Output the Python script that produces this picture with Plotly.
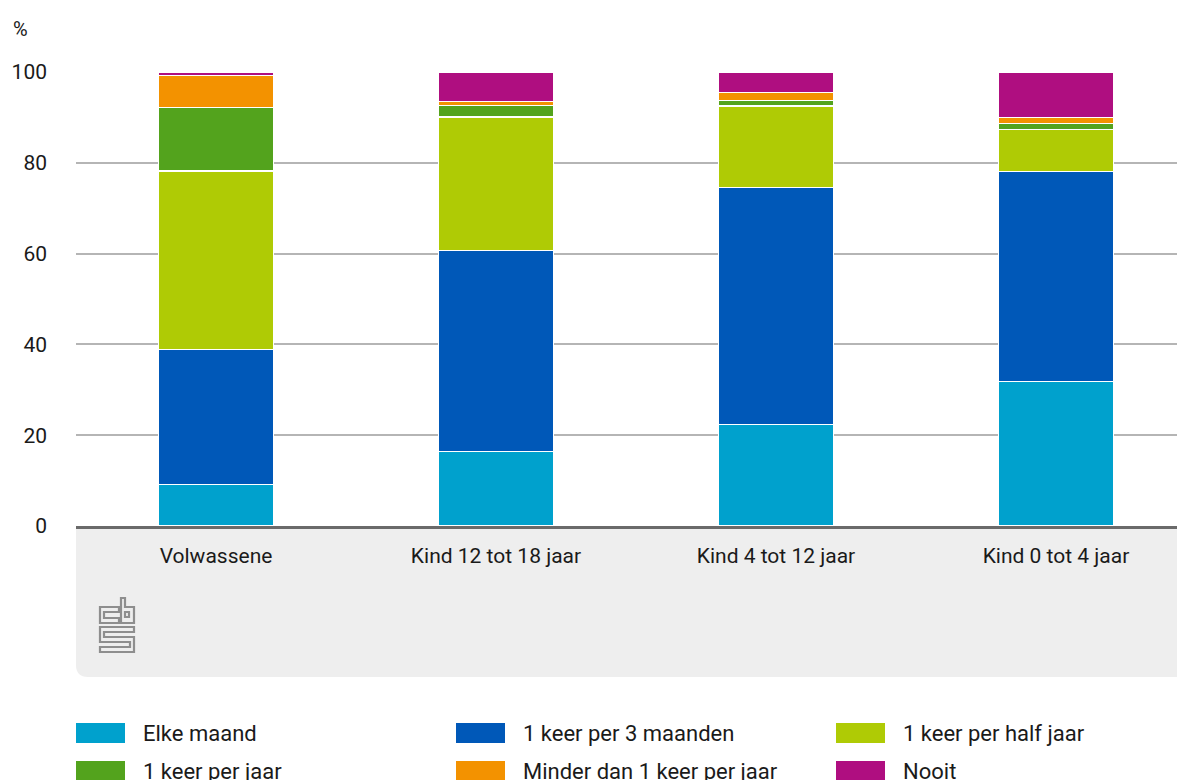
import plotly.graph_objects as go

# ---------------- data ----------------
categories = ["Volwassene", "Kind 12 tot 18 jaar", "Kind 4 tot 12 jaar", "Kind 0 tot 4 jaar"]
series_names = ["Elke maand", "1 keer per 3 maanden", "1 keer per half jaar",
                "1 keer per jaar", "Minder dan 1 keer per jaar", "Nooit"]
elke_maand = [9.1, 16.4, 22.4, 31.8]
keer_per_3_maanden = [29.8, 44.2, 52.2, 46.3]
keer_per_half_jaar = [39.3, 29.5, 17.9, 9.3]
keer_per_jaar = [13.9, 2.5, 1.2, 1.3]
minder_dan_1_keer = [7.1, 0.9, 1.8, 1.3]
nooit = [0.8, 6.5, 4.5, 10.0]
series_values = [elke_maand, keer_per_3_maanden, keer_per_half_jaar,
                 keer_per_jaar, minder_dan_1_keer, nooit]
colors = ["#00A1CD", "#0058B8", "#AFCB05", "#53A31D", "#F39200", "#AF0E80"]
y_ticks = [0, 20, 40, 60, 80, 100]
y_unit = "%"

# ---------------- layout constants ----------------
OFF = 8  # page body margin
W, H = 1185 - OFF, 780 - OFF
L, R, T = 76 - OFF, 0, 72 - OFF
B = H - (526 - OFF)
PW = W - L - R
PH = H - T - B
FONT = "Roboto, 'Open Sans', sans-serif"
TXT = "#1a1a1a"


def px(x):
    # x given in screenshot pixels
    return (x - OFF - L) / PW


def py(y):
    # y given in screenshot pixels
    return (H - B - (y - OFF)) / PH


fig = go.Figure()
for name, vals, col in zip(series_names, series_values, colors):
    fig.add_trace(go.Bar(
        x=categories, y=vals, name=name,
        marker=dict(color=col, line=dict(color="white", width=1.2)),
        width=0.413, showlegend=False,
        hovertemplate="%{x}<br>" + name + ": %{y}%<extra></extra>",
    ))

shapes = []
# grey footer panel with rounded bottom-left corner
y_bot = py(677)
rx, ry = 12 / PW, 12 / PH
shapes.append(dict(
    type="path", xref="paper", yref="paper", layer="below",
    path=f"M 0,0 L 1.02,0 L 1.02,{y_bot} L {rx},{y_bot} Q 0,{y_bot} 0,{y_bot + ry} Z",
    fillcolor="#EEEEEE", line=dict(width=0),
))


# cbs logo (outline)
def poly(points):
    return "M " + " L ".join(f"{px(a)},{py(b)}" for a, b in points) + " Z"


logo_parts = [
    [(119, 607), (100, 607), (100, 623), (119, 623), (119, 618), (104, 618), (104, 612), (119, 612)],
    [(121, 598), (125, 598), (125, 607), (134, 607), (134, 623), (121, 623)],
    [(125, 612), (129, 612), (129, 617), (125, 617)],
    [(100, 627), (134, 627), (134, 632), (104, 632), (104, 637), (134, 637),
     (134, 652), (100, 652), (100, 647), (130, 647), (130, 642), (100, 642)],
]
for part in logo_parts:
    shapes.append(dict(type="path", xref="paper", yref="paper", path=poly(part),
                       line=dict(color="#8e8e8e", width=2.2), fillcolor="rgba(0,0,0,0)"))

annotations = [dict(
    text=y_unit, xref="paper", yref="paper", x=px(11), y=py(29),
    xanchor="left", yanchor="middle", showarrow=False,
    font=dict(family=FONT, size=20, color=TXT),
)]

# custom legend (3 columns x 2 rows)
col_x = [76, 456, 836]
row_y = [733, 771]
for i, (name, col) in enumerate(zip(series_names, colors)):
    cx = col_x[i % 3]
    cy = row_y[i // 3]
    shapes.append(dict(type="rect", xref="paper", yref="paper",
                       x0=px(cx), x1=px(cx + 49), y0=py(cy - 10), y1=py(cy + 10),
                       fillcolor=col, line=dict(width=0)))
    annotations.append(dict(text=name, xref="paper", yref="paper",
                            x=px(cx + 65), y=py(cy), xanchor="left", yanchor="middle",
                            showarrow=False, font=dict(family=FONT, size=22, color=TXT)))

fig.update_layout(
    width=W, height=H, autosize=False,
    margin=dict(l=L, r=R, t=T, b=B, pad=0),
    paper_bgcolor="white", plot_bgcolor="white",
    barmode="stack",
    font=dict(family=FONT, color=TXT),
    shapes=shapes, annotations=annotations,
    showlegend=False,
    xaxis=dict(
        type="category", range=[-0.5, PW / 280 - 0.5],
        showline=True, linecolor="#6a6a6a", linewidth=3,
        showgrid=False, ticks="", ticklabelstandoff=9,
        tickfont=dict(family=FONT, size=21, color=TXT),
        fixedrange=True,
    ),
    yaxis=dict(
        range=[0, 100], tickvals=y_ticks, ticktext=[str(v) for v in y_ticks],
        showgrid=True, gridcolor="#b5b5b5", gridwidth=1.5,
        zeroline=False, showline=False, ticks="",
        ticklabelstandoff=28,
        tickfont=dict(family=FONT, size=21, color=TXT),
        fixedrange=True,
    ),
)

fig.write_html("out.html")
